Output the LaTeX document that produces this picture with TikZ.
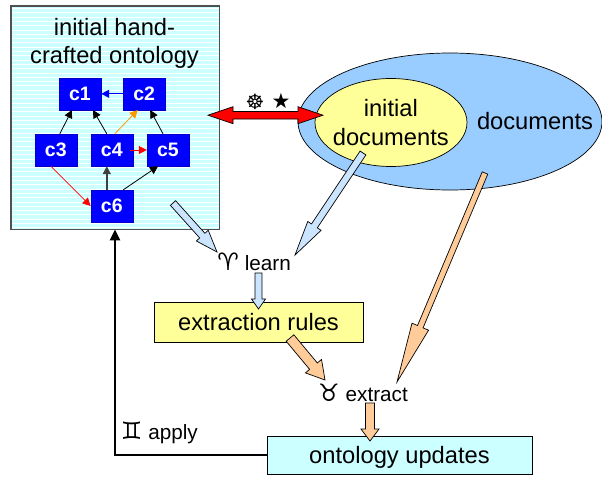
\documentclass[tikz,border=0pt]{standalone}
\usepackage{fontspec}
\setmainfont{Liberation Sans}
\newfontfamily\symfont{DejaVu Sans}
\usetikzlibrary{calc,arrows.meta,shapes.geometric}

\definecolor{ontobg}{HTML}{CCFFFF}
\definecolor{nodeblue}{HTML}{0000FF}
\definecolor{docblue}{HTML}{99CCFF}
\definecolor{softyellow}{HTML}{FFFF99}
\definecolor{arrowblue}{HTML}{CCE5FF}
\definecolor{arroworange}{HTML}{FFCC99}
\definecolor{edgeorange}{HTML}{FF9900}
\definecolor{framegray}{HTML}{505050}

% block arrow: style, start, end, shaft width, head width, head length (pt)
\newcommand\blockarrow[6]{%
  \path let \p1=(#2), \p2=(#3) in
    \pgfextra{\pgfmathsetmacro\baang{atan2(\y2-\y1,\x2-\x1)}%
              \pgfmathsetmacro\balen{veclen(\x2-\x1,\y2-\y1)}%
              \xdef\baang{\baang}\xdef\balen{\balen}};
  \draw[#1, shift={(#2)}, rotate=\baang]
    (0pt,{#4pt/2}) -- ({\balen pt-#6pt},{#4pt/2}) -- ({\balen pt-#6pt},{#5pt/2})
    -- ({\balen pt},0pt) -- ({\balen pt-#6pt},{-#5pt/2}) -- ({\balen pt-#6pt},{-#4pt/2})
    -- (0pt,{-#4pt/2}) -- cycle;}

% zodiac glyph in front of a step label
\newcommand\zodiac[1]{{\symfont\fontsize{24}{26}\selectfont #1}}

\begin{document}
\begin{tikzpicture}[x=1pt,y=-1pt,
  big/.style={font=\fontsize{23.7}{28.3}\selectfont, inner sep=0pt},
  small/.style={font=\fontsize{20.7}{24}\selectfont, inner sep=0pt},
  cbox/.style={fill=nodeblue, draw=nodeblue!80!black, line width=0.4pt, text=white,
    font=\bfseries\fontsize{19.5}{20}\selectfont, minimum width=42pt, minimum height=32pt, inner sep=0pt},
  edge/.style={line width=0.8pt, -{Triangle[length=8pt,width=8pt]}},
  blockblue/.style={fill=arrowblue, draw=black, line width=0.7pt, line join=miter},
  blockorange/.style={fill=arroworange, draw=black, line width=0.7pt, line join=miter},
  panel/.style={draw=black, line width=0.7pt, inner sep=0pt}]
\useasboundingbox (0,0) rectangle (602,477);

% hand-crafted ontology panel with striped background
\node[draw=framegray, line width=0.8pt, fill=ontobg, minimum width=208pt, minimum height=223pt,
  inner sep=0pt,
  path picture={\foreach \k in {0,...,52}
    \draw[white, line width=1pt]
      ([yshift=-(2.5+4.3*\k)*1pt]path picture bounding box.north west) --
      ([yshift=-(2.5+4.3*\k)*1pt]path picture bounding box.north east);}]
  (onto) at (115,117.5) {};
\draw[framegray, line width=0.8pt] (onto.north west) rectangle (onto.south east);
\node[big, anchor=base] (title1) at (114.5,35) {initial hand-};
\node[big, anchor=base] (title2) at (114.5,63.3) {crafted ontology};

% concept nodes
\node[cbox] (c1) at (80,93.8) {c1};
\node[cbox] (c2) at (144.2,93.8) {c2};
\node[cbox] (c3) at (55.8,150) {c3};
\node[cbox] (c4) at (111.8,150) {c4};
\node[cbox] (c5) at (168,150) {c5};
\node[cbox] (c6) at (111.8,206) {c6};

\draw[edge, nodeblue] (c2.west) -- (c1.east);
\draw[edge] ([xshift=4pt]c3.north) -- ([xshift=-8pt]c1.south);
\draw[edge] ([xshift=-5pt]c4.north) -- ([xshift=13pt]c1.south);
\draw[edge, edgeorange] ([xshift=3pt]c4.north) -- ([xshift=-6.5pt]c2.south);
\draw[edge] ([xshift=-5pt]c5.north) -- ([xshift=6pt]c2.south);
\draw[edge, red] ([xshift=-3pt]c4.east) -- (c5.west);
\draw[edge, red] ([xshift=-5pt]c3.south) -- (c6.west);
\draw[edge, line width=1.6pt, black!75] ([xshift=-5pt]c6.north) -- ([xshift=-5pt]c4.south);
\draw[edge] ([xshift=11.5pt]c6.north) -- ([xshift=-10pt]c5.south);

% document collections
\node[ellipse, draw=black, line width=0.7pt, fill=docblue, minimum width=304pt,
  minimum height=137pt, inner sep=0pt] (docs) at (450,121.5) {};
\node[ellipse, draw=black, line width=0.7pt, fill=softyellow, minimum width=152pt,
  minimum height=88pt, inner sep=0pt] (idocs) at (391,122.5) {};
\node[big, anchor=base] (idocs1) at (390.8,116.7) {initial};
\node[big, anchor=base] (idocs2) at (390.8,145) {documents};
\node[big, anchor=base] (docslabel) at (535,129.3) {documents};

% correspondence between ontology and initial documents
\coordinate (dl) at (208,115.2);
\coordinate (dr) at (323,115.2);
\draw[fill=red, draw=black, line width=0.7pt, line join=miter]
  (dl) -- ++(25,-8.5) -- ++(0,4.7) -- ($(dr)+(-25,-3.8)$) -- ++(0,-4.7) -- (dr)
  -- ++(-25,8.5) -- ++(0,-4.7) -- ($(dl)+(25,3.8)$) -- ++(0,4.7) -- cycle;
\node[font=\symfont\fontsize{21}{22}\selectfont, inner sep=0pt] (wheel) at (255,101.5) {☸};
\node[font=\symfont\fontsize{21}{22}\selectfont, inner sep=0pt] (star) at (281,101) {★};

% processing steps
\node[panel, fill=softyellow, minimum width=209pt, minimum height=39.5pt,
  font=\fontsize{23.7}{28.3}\selectfont, text height=17.3pt, text depth=0pt]
  (rules) at (258.5,322.3) {extraction rules};
\node[panel, fill=ontobg, minimum width=265pt, minimum height=38pt,
  font=\fontsize{23.7}{28.3}\selectfont, text height=17.3pt, text depth=0pt]
  (updates) at (399.5,455) {ontology updates};

\node[small, anchor=base east] (learn) at (291,270) {\zodiac{♈}\hspace{6pt}learn};
\node[small, anchor=base east] (extract) at (408,401.7) {\zodiac{♉}\hspace{6pt}extract};
\node[small, anchor=base east] (apply) at (198,439) {\zodiac{♊}\hspace{6pt}apply};

% learning arrows
\coordinate (la1s) at (173,203);  \coordinate (la1e) at (217,252);
\coordinate (la2s) at (363,153);  \coordinate (la2e) at (295,255);
\coordinate (la3s) at (258.5,273); \coordinate (la3e) at (258.5,309);
\blockarrow{blockblue}{la1s}{la1e}{7}{16}{22}
\blockarrow{blockblue}{la2s}{la2e}{7}{16}{35}
\blockarrow{blockblue}{la3s}{la3e}{7}{14}{10}

% extraction arrows
\coordinate (oa1s) at (290,338);  \coordinate (oa1e) at (325,380);
\coordinate (oa2s) at (485,173);  \coordinate (oa2e) at (397,382);
\coordinate (oa3s) at (370,403);  \coordinate (oa3e) at (370,441);
\blockarrow{blockorange}{oa1s}{oa1e}{10}{21}{18}
\blockarrow{blockorange}{oa2s}{oa2e}{6}{18}{60}
\blockarrow{blockorange}{oa3s}{oa3e}{9}{18}{12}

% feedback into the ontology
\draw[line width=2.5pt, -{Triangle[length=11pt,width=10pt]}] (updates.west) -| (onto.south);
\end{tikzpicture}
\end{document}
